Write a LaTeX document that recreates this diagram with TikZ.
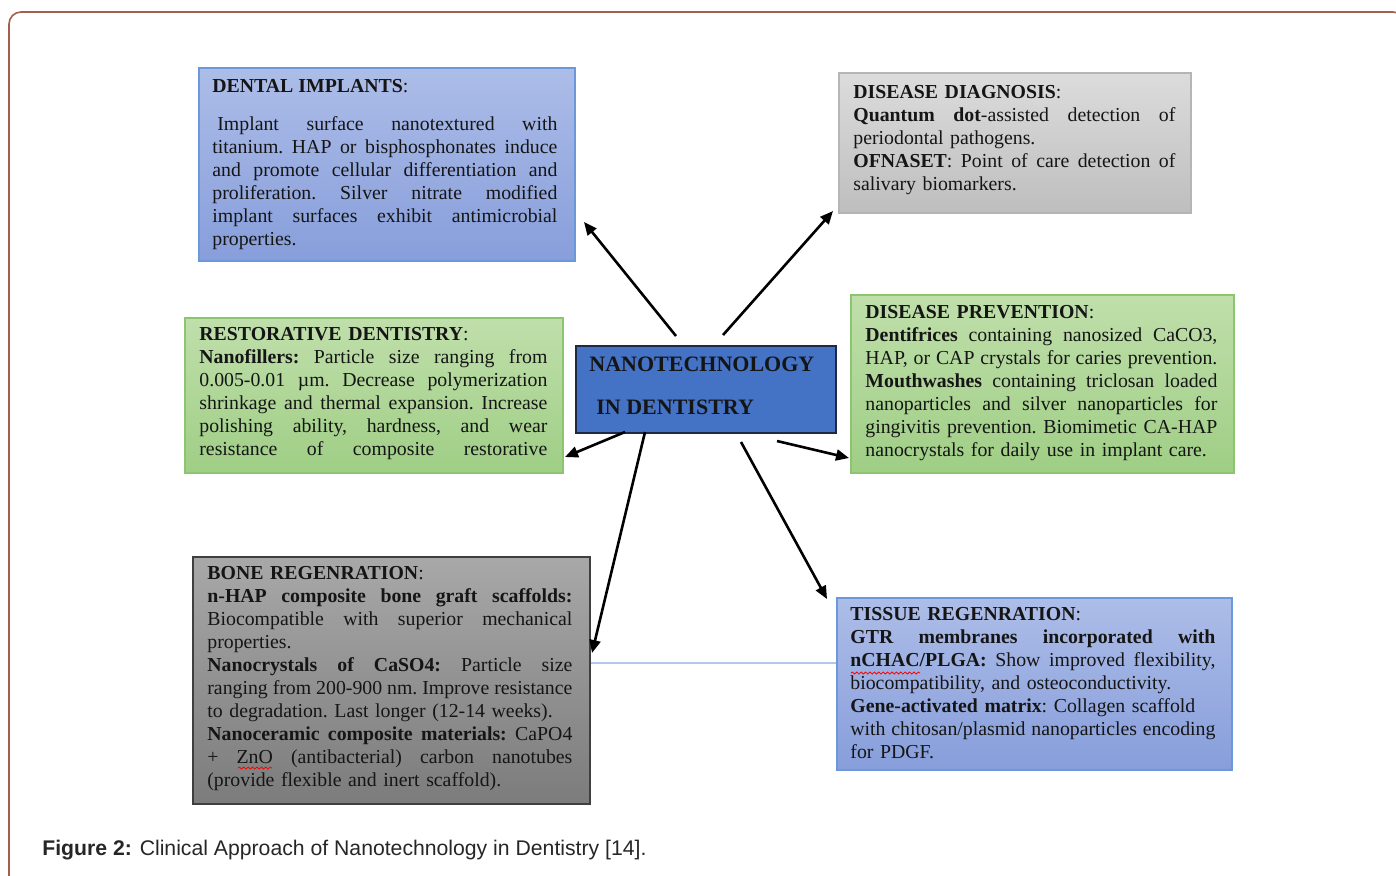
\documentclass[tikz,border=0pt]{standalone}
\usepackage{fontspec}
\setmainfont{Liberation Serif}
\newfontfamily\capfont{Liberation Sans}
\usetikzlibrary{arrows.meta,decorations.pathmorphing}
\definecolor{framec}{HTML}{A0604E}
\definecolor{blueTop}{HTML}{ADBDE8}
\definecolor{blueBot}{HTML}{879EDB}
\definecolor{blueBd}{HTML}{6A98DB}
\definecolor{grayTop}{HTML}{DCDCDC}
\definecolor{grayBot}{HTML}{BEBEBE}
\definecolor{grayBd}{HTML}{B5B5B5}
\definecolor{greenTop}{HTML}{C0DFAB}
\definecolor{greenBot}{HTML}{9FCE85}
\definecolor{greenBd}{HTML}{8DC46F}
\definecolor{dgTop}{HTML}{A8A8A8}
\definecolor{dgBot}{HTML}{7C7C7C}
\definecolor{dgBd}{HTML}{3F3F3F}
\definecolor{centralFill}{HTML}{4472C4}
\definecolor{centralBd}{HTML}{1E2A44}
\definecolor{txtc}{HTML}{151515}
\definecolor{linkc}{HTML}{B4C7E7}
\newlength{\tw}
\newcommand{\J}[1]{\leavevmode\hbox to\tw{\spaceskip=0.25em plus 3em minus 0.1em\xspaceskip=0.25em plus 3em minus 0.1em\relax #1}}
\newcommand{\bodyfont}{\fontsize{9.9pt}{11.5pt}\selectfont\frenchspacing}
\begin{document}
\begin{tikzpicture}[x=0.5pt,y=-0.5pt,
  box/.style={draw, line width=0.8pt, inner sep=0, anchor=north west},
  bluebox/.style={box, draw=blueBd, top color=blueTop, bottom color=blueBot},
  graybox/.style={box, draw=grayBd, top color=grayTop, bottom color=grayBot},
  greenbox/.style={box, draw=greenBd, top color=greenTop, bottom color=greenBot},
  dgbox/.style={box, draw=dgBd, top color=dgTop, bottom color=dgBot},
  centralbox/.style={box, draw=centralBd, fill=centralFill},
  txt/.style={anchor=base west, inner sep=0, align=left, text=txtc, font=\bodyfont},
  arr/.style={line width=1.3pt, -{Triangle[length=6.5pt,width=5.5pt]}},
  wavy/.style={red, line width=0.4pt, decorate, decoration={snake, amplitude=0.5pt, segment length=2.2pt}}
]
\useasboundingbox (0,0) rectangle (1396,875);
\begin{scope}
\clip (0,0) rectangle (1396,875);
\draw[framec, line width=0.8pt, rounded corners=6pt] (9,12) rectangle (1405,895);
\end{scope}

% boxes
\node[bluebox, minimum width=188pt, minimum height=96.5pt] (dental) at (198,67) {};
\node[graybox, minimum width=176pt, minimum height=70pt] (diag) at (838,72) {};
\node[greenbox, minimum width=189pt, minimum height=77.5pt] (restor) at (184,317) {};
\node[centralbox, minimum width=130pt, minimum height=43.5pt] (central) at (575,345) {};
\node[greenbox, minimum width=191.5pt, minimum height=89pt] (prevent) at (850,294) {};
\node[dgbox, minimum width=198.5pt, minimum height=123.5pt] (bone) at (192,556) {};
\node[bluebox, minimum width=197.5pt, minimum height=86pt] (tissue) at (836,597) {};

% link line between bone and tissue
\draw[linkc, line width=0.6pt] (bone.east |- 0,663) -- (tissue.west |- 0,663);

% texts
\node[txt] (dentalh) at (212,92) {\textbf{DENTAL IMPLANTS}:};
\node[txt, text width=172.5pt] (dentalt) at (212,130) {\setlength{\tw}{172.5pt}%
\J{\hspace{2.5pt}Implant surface nanotextured with}\\
\J{titanium. HAP or bisphosphonates induce}\\
\J{and promote cellular differentiation and}\\
\J{proliferation. Silver nitrate modified}\\
\J{implant surfaces exhibit antimicrobial}\\
properties.};

\node[txt, text width=161pt] (diagt) at (853,98) {\setlength{\tw}{161pt}%
\textbf{DISEASE DIAGNOSIS}:\\
\J{\textbf{Quantum dot}-assisted detection of}\\
periodontal pathogens.\\
\J{\textbf{OFNASET}: Point of care detection of}\\
salivary biomarkers.};

\node[txt, text width=174pt] (restort) at (199,340) {\setlength{\tw}{174pt}%
\textbf{RESTORATIVE DENTISTRY}:\\
\J{\textbf{Nanofillers:} Particle size ranging from}\\
\J{0.005-0.01 µm. Decrease polymerization}\\
\J{shrinkage and thermal expansion. Increase}\\
\J{polishing ability, hardness, and wear}\\
\J{resistance of composite restorative}};

\node[txt, text width=176pt] (preventt) at (865,318) {\setlength{\tw}{176pt}%
\textbf{DISEASE PREVENTION}:\\
\J{\textbf{Dentifrices} containing nanosized CaCO3,}\\
\J{HAP, or CAP crystals for caries prevention.}\\
\J{\textbf{Mouthwashes} containing triclosan loaded}\\
\J{nanoparticles and silver nanoparticles for}\\
\J{gingivitis prevention. Biomimetic CA-HAP}\\
nanocrystals for daily use in implant care.};

\node[txt, text width=182.5pt] (bonet) at (207,579) {\setlength{\tw}{182.5pt}%
\textbf{BONE REGENRATION}:\\
\J{\textbf{n-HAP composite bone graft scaffolds:}}\\
\J{Biocompatible with superior mechanical}\\
properties.\\
\J{\textbf{Nanocrystals of CaSO4:} Particle size}\\
\J{ranging from 200-900 nm. Improve resistance}\\
to degradation. Last longer (12-14 weeks).\\
\J{\textbf{Nanoceramic composite materials:} CaPO4}\\
\J{+ ZnO (antibacterial) carbon nanotubes}\\
(provide flexible and inert scaffold).};

\node[txt, text width=182.5pt] (tissuet) at (850,620) {\setlength{\tw}{182.5pt}%
\textbf{TISSUE REGENRATION}:\\
\J{\textbf{GTR membranes incorporated with}}\\
\J{\textbf{nCHAC/PLGA:} Show improved flexibility,}\\
biocompatibility, and osteoconductivity.\\
\textbf{Gene-activated matrix}: Collagen scaffold\\
\J{with chitosan/plasmid nanoparticles encoding}\\
for PDGF.};

% spell-check underlines
\coordinate (w1s) at (238,768); \coordinate (w1e) at (272,768);
\coordinate (w2s) at (851,673); \coordinate (w2e) at (920,673);
\draw[wavy] (w1s) -- (w1e);
\draw[wavy] (w2s) -- (w2e);

% central text
\node[txt, font=\fontsize{11pt}{13pt}\selectfont\bfseries] (ct1) at (589,371) {NANOTECHNOLOGY};
\node[txt, font=\fontsize{11pt}{13pt}\selectfont\bfseries] (ct2) at (596,414) {IN DENTISTRY};

% arrows
\coordinate (a1s) at (676,336); \coordinate (a1e) at (584,222);
\coordinate (a2s) at (723,335); \coordinate (a2e) at (833,211);
\coordinate (a3s) at (625,432); \coordinate (a3e) at (565,457);
\coordinate (a4s) at (777,441); \coordinate (a4e) at (849,458);
\coordinate (a5s) at (645,432); \coordinate (a5e) at (592,653);
\coordinate (a6s) at (741,442); \coordinate (a6e) at (827,599);
\draw[arr] (a1s) -- (a1e);
\draw[arr] (a2s) -- (a2e);
\draw[arr] (a3s) -- (a3e);
\draw[arr] (a4s) -- (a4e);
\draw[arr] (a5s) -- (a5e);
\draw[arr] (a6s) -- (a6e);

% caption
\node[anchor=base west, inner sep=0, text=black!85, font=\capfont\fontsize{10.6pt}{12pt}\selectfont] (caption) at (42,855) {\textbf{Figure 2:} Clinical Approach of Nanotechnology in Dentistry [14].};
\end{tikzpicture}
\end{document}
